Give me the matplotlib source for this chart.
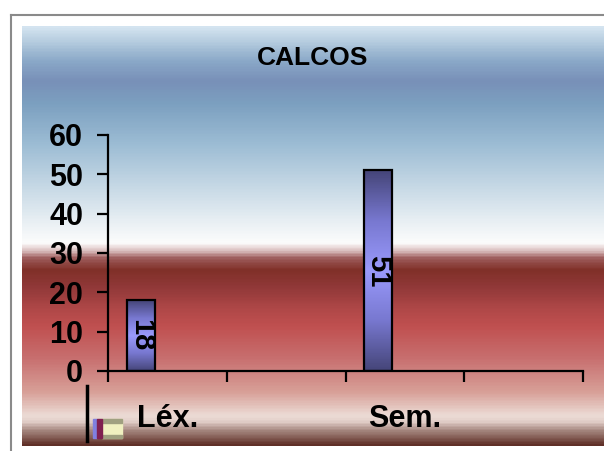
import matplotlib.pyplot as plt
import numpy as np
from matplotlib.colors import LinearSegmentedColormap
from matplotlib.patches import Rectangle

plt.rcParams['font.family'] = ['Liberation Sans', 'DejaVu Sans']

titulo = 'CALCOS'
categorias = ['Léx.', '', 'Sem.', '']
valores = [18, 0, 51, 0]
mostrar = [True, False, True, False]

W, H = 604, 451
fig = plt.figure(figsize=(W / 100, H / 100), dpi=100)

# marco exterior gris
fig.add_artist(plt.Line2D([11 / W, 11 / W], [0, 1 - 15 / H], color='#8a8a8a', lw=1.5))
fig.add_artist(plt.Line2D([11 / W, 1], [1 - 15 / H, 1 - 15 / H], color='#8a8a8a', lw=1.5))

# fondo degradado
stops = [(0, '#d4e4f0'), (.040, '#b0c8dc'), (.081, '#8aa8c8'), (.129, '#7890b8'),
         (.183, '#7ca0c0'), (.279, '#9cbcd4'), (.398, '#cddde8'), (.479, '#eef3f6'),
         (.517, '#fcfcfc'), (.533, '#e0c8c8'), (.552, '#a06060'), (.581, '#803028'),
         (.621, '#903838'), (.676, '#b04848'), (.717, '#c05050'), (.795, '#c87070'),
         (.874, '#d8a098'), (.931, '#ecdcd6'), (.945, '#e0ccc6'), (.969, '#a08078'),
         (1, '#603028')]
cmap_bg = LinearSegmentedColormap.from_list('bg', stops)
bg = fig.add_axes([22 / W, 5 / H, (W - 22) / W, 420 / H])
bg.imshow(np.linspace(0, 1, 400).reshape(-1, 1), cmap=cmap_bg, aspect='auto')
bg.axis('off')
bg.set_zorder(0)

fig.text(313 / W, 1 - 58 / H, titulo, ha='center', va='center',
         fontsize=19, fontweight='bold')

ax = fig.add_axes([108 / W, 80 / H, 475 / W, 236 / H])
ax.set_zorder(1)
ax.patch.set_visible(False)

cmap_bar = LinearSegmentedColormap.from_list('bar', ['#46467a', '#7878d0', '#9a9afc',
                                                     '#7878d0', '#46467a'])
x = np.arange(len(categorias))
bars = ax.bar(x + 0.275, valores, width=0.236, facecolor='none',
              edgecolor='black', linewidth=1.6, zorder=3)
for b, v, ok in zip(bars, valores, mostrar):
    if not ok:
        b.set_visible(False)
        continue
    x0, w, h = b.get_x(), b.get_width(), b.get_height()
    ax.imshow(np.linspace(0, 1, 100).reshape(-1, 1), cmap=cmap_bar, aspect='auto',
              extent=[x0, x0 + w, 0, h], zorder=2)
    ax.text(x0 + w / 2, h / 2, str(v), rotation=-90, ha='center', va='center',
            fontsize=21, fontweight='bold', zorder=4)

ax.set_xlim(0, 4)
ax.set_ylim(0, 60)
ax.set_yticks(range(0, 61, 10))
ax.set_xticks(range(0, 5))
ax.set_xticklabels([])
ax.set_xticks(x + 0.5, minor=True)
ax.set_xticklabels(categorias, minor=True)
ax.tick_params(axis='x', which='minor', length=0, pad=24, labelsize=22)
ax.tick_params(axis='x', which='major', direction='out', length=8, width=1.6)
ax.tick_params(axis='y', direction='out', length=8, width=1.6, pad=10, labelsize=22)
for t in ax.get_xticklabels(minor=True) + ax.get_yticklabels():
    t.set_fontweight('bold')
for s in ['top', 'right']:
    ax.spines[s].set_visible(False)
for s in ['left', 'bottom']:
    ax.spines[s].set_linewidth(1.6)

# resto de leyenda
fig.add_artist(plt.Line2D([87 / W, 87 / W], [1 - 441 / H, 1 - 386 / H], color='black', lw=2.5))
ly, lh = 1 - 438 / H, 19 / H
fig.add_artist(Rectangle((102 / W, ly), 20 / W, lh, color='#f0f0c0'))
fig.add_artist(Rectangle((102 / W, ly + lh * 0.8), 20 / W, lh * 0.2, color='#a0a080'))
fig.add_artist(Rectangle((102 / W, ly), 20 / W, lh * 0.15, color='#a0a080'))
fig.add_artist(Rectangle((93 / W, ly), 4 / W, lh, color='#8080e0'))
fig.add_artist(Rectangle((97 / W, ly), 5 / W, lh, color='#802050'))

fig.savefig('out.png', dpi=100)
